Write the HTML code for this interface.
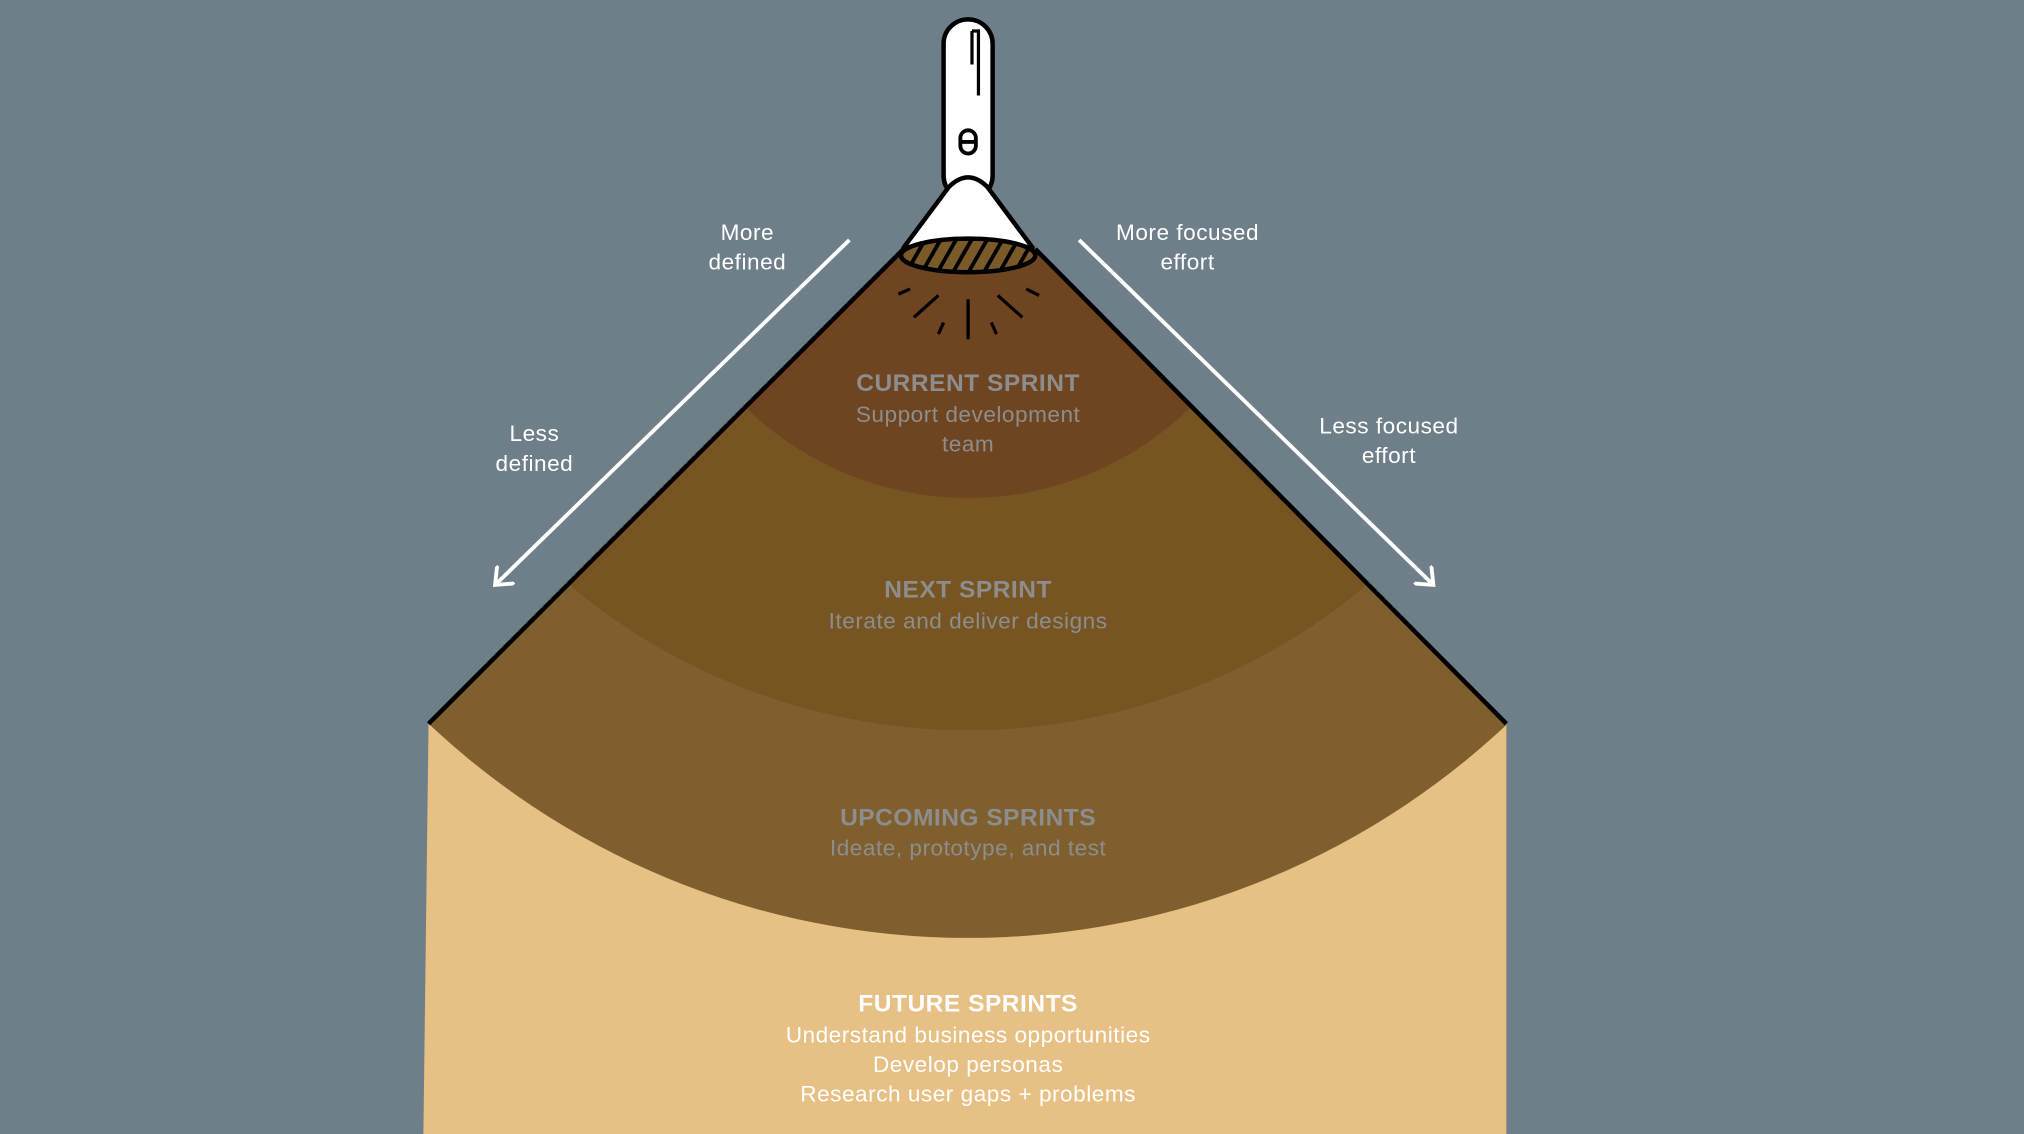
<!DOCTYPE html>
<html><head><meta charset="utf-8"><style>
html,body{margin:0;padding:0;background:#6e7f89;}
svg{display:block}
text{font-family:"Liberation Sans",sans-serif;text-anchor:middle;letter-spacing:0.4px}
</style></head><body>
<svg width="2024" height="1134" viewBox="0 0 1568 879" preserveAspectRatio="none" xmlns="http://www.w3.org/2000/svg">
<defs>
<clipPath id="w"><polygon points="700,195 802,195 1167,561 1167,879 328,879 332,561"/></clipPath>
<clipPath id="lens"><ellipse cx="750" cy="198" rx="52" ry="13"/></clipPath>
<marker id="ah" viewBox="0 0 20 20" refX="10" refY="10" markerWidth="20" markerHeight="20" markerUnits="userSpaceOnUse" orient="auto"><path d="M0,0 L12,10 L0,20" fill="none" stroke="#fff" stroke-width="3"/></marker>
</defs>
<rect width="1568" height="879" fill="#6e7f89"/>
<polygon points="332,561 1167,561 1167,879 328,879" fill="#e6c084"/>
<g clip-path="url(#w)">
<circle cx="750" cy="118" r="609" fill="#7f5f2e"/>
<circle cx="750" cy="86" r="480" fill="#775523"/>
<circle cx="750" cy="139" r="247" fill="#6e4520"/>
</g>
<polyline points="332,561 700,193" stroke="#000" stroke-width="3.5" fill="none"/>
<polyline points="1167,561 802,193" stroke="#000" stroke-width="3.5" fill="none"/>
<line x1="658" y1="186" x2="385" y2="452" stroke="#fff" stroke-width="3" marker-end="url(#ah)"/>
<line x1="836" y1="186" x2="1109" y2="452" stroke="#fff" stroke-width="3" marker-end="url(#ah)"/>
<rect x="731" y="15" width="38" height="140" rx="19" fill="#fff" stroke="#000" stroke-width="3.5"/>
<path d="M753,24 L758,24 L758,74" fill="none" stroke="#000" stroke-width="2.5"/>
<line x1="753" y1="24" x2="753" y2="50" stroke="#000" stroke-width="2.5"/>
<rect x="744" y="101" width="12" height="18" rx="6" fill="none" stroke="#000" stroke-width="3"/>
<line x1="744" y1="110" x2="756" y2="110" stroke="#000" stroke-width="3"/>
<path d="M735,145 Q750,130 765,145 L800,192 Q750,185 700,192 Z" fill="#fff" stroke="#000" stroke-width="3.5" stroke-linejoin="round"/>
<ellipse cx="750" cy="198" rx="52" ry="13" fill="#7b5a2a"/>
<g clip-path="url(#lens)" stroke="#000" stroke-width="3">
<line x1="700" y1="215" x2="720" y2="180"/><line x1="712" y1="215" x2="732" y2="180"/><line x1="724" y1="215" x2="744" y2="180"/><line x1="736" y1="215" x2="756" y2="180"/><line x1="748" y1="215" x2="768" y2="180"/><line x1="760" y1="215" x2="780" y2="180"/><line x1="772" y1="215" x2="792" y2="180"/><line x1="784" y1="215" x2="804" y2="180"/>
</g>
<ellipse cx="750" cy="198" rx="52" ry="13" fill="none" stroke="#000" stroke-width="3.5"/>
<g stroke="#000" stroke-width="2.5">
<line x1="750" y1="232" x2="750" y2="263"/>
<line x1="727" y1="229" x2="708" y2="246"/><line x1="773" y1="229" x2="792" y2="246"/>
<line x1="705" y1="224" x2="696" y2="228"/><line x1="795" y1="224" x2="805" y2="229"/>
<line x1="731" y1="250" x2="727" y2="259"/><line x1="768" y1="250" x2="772" y2="259"/>
</g>
<g fill="#fff" font-size="17.5">
<text x="579" y="186">More</text><text x="579" y="209">defined</text>
<text x="414" y="342">Less</text><text x="414" y="365">defined</text>
<text x="920" y="186">More focused</text><text x="920" y="209">effort</text>
<text x="1076" y="336">Less focused</text><text x="1076" y="359">effort</text>
</g>
<g fill="#8d8d8d" font-size="17.5">
<text x="750" y="303" font-weight="bold" font-size="19">CURRENT SPRINT</text>
<text x="750" y="327">Support development</text>
<text x="750" y="350">team</text>
<text x="750" y="463" font-weight="bold" font-size="19">NEXT SPRINT</text>
<text x="750" y="487">Iterate and deliver designs</text>
<text x="750" y="640" font-weight="bold" font-size="19">UPCOMING SPRINTS</text>
<text x="750" y="663">Ideate, prototype, and test</text>
</g>
<g fill="#fff" font-size="17.5">
<text x="750" y="784" font-weight="bold" font-size="19">FUTURE SPRINTS</text>
<text x="750" y="808">Understand business opportunities</text>
<text x="750" y="831">Develop personas</text>
<text x="750" y="854">Research user gaps + problems</text>
</g>
</svg>
</body></html>
